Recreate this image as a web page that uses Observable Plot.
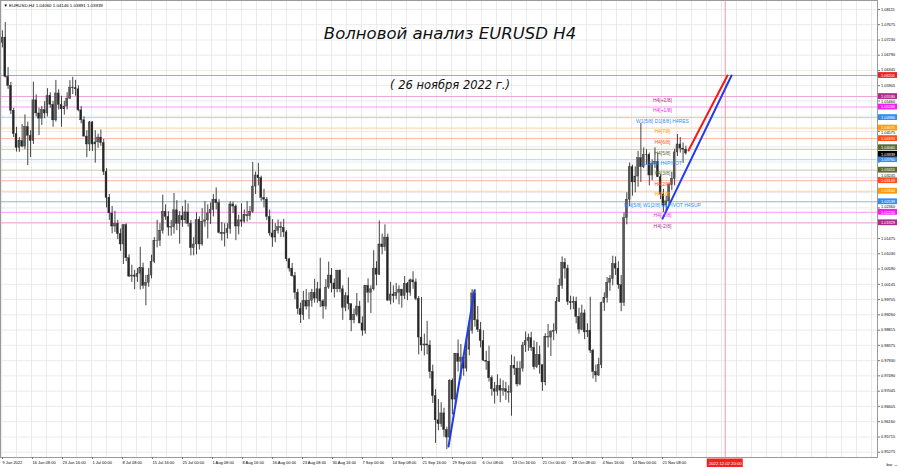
<!DOCTYPE html>
<html><head><meta charset="utf-8">
<script src="https://cdn.jsdelivr.net/npm/d3@7"></script>
<script src="https://cdn.jsdelivr.net/npm/@observablehq/plot@0.6"></script>
<style>body{margin:0;background:#fff}svg{display:block}</style>
</head><body><div id="chart"></div>
<script>
// ---------- DATA ----------
const firstOpen = 1.0715;
// half-day candles (3 H4 bars each), 2 per trading day, 9 Jun – 25 Nov 2022
const hi = [
1.0750,1.0774, 1.0643,1.0600, 1.0525,1.0470, 1.0440,1.0478, 1.0506,1.0485,
1.0460,1.0601, 1.0564,1.0525, 1.0530,1.0544, 1.0582,1.0570, 1.0545,1.0606,
1.0579,1.0560, 1.0545,1.0570, 1.0605,1.0615, 1.0606,1.0590, 1.0530,1.0500,
1.0460,1.0487, 1.0486,1.0460, 1.0450,1.0462, 1.0435,1.0350, 1.0275,1.0240,
1.0226,1.0200, 1.0175,1.0186, 1.0190,1.0100, 1.0070,1.0055, 1.0060,1.0122,
1.0076,1.0040, 1.0060,1.0099, 1.0150,1.0200, 1.0190,1.0273, 1.0245,1.0225,
1.0200,1.0278, 1.0257,1.0225, 1.0240,1.0258, 1.0248,1.0200, 1.0150,1.0222,
1.0210,1.0234, 1.0254,1.0245, 1.0250,1.0275, 1.0294,1.0260, 1.0194,1.0190,
1.0190,1.0254, 1.0253,1.0245, 1.0215,1.0248, 1.0230,1.0254, 1.0240,1.0368,
1.0340,1.0365, 1.0328,1.0290, 1.0266,1.0230, 1.0202,1.0190, 1.0201,1.0195,
1.0203,1.0170, 1.0090,1.0075, 1.0049,1.0000, 0.9960,0.9994, 0.9999,0.9990,
1.0000,1.0029, 1.0020,1.0090, 0.9970,1.0028, 1.0079,1.0060, 1.0030,1.0055,
1.0056,1.0010, 0.9990,1.0033, 0.9957,0.9943, 0.9988,0.9965, 0.9920,1.0011,
1.0030,1.0010, 1.0112,1.0080, 1.0198,1.0160, 1.0187,1.0160, 1.0020,1.0010,
1.0017,1.0010, 1.0000,1.0037, 1.0020,1.0030, 1.0051,1.0030, 0.9979,0.9976,
0.9870,0.9907, 0.9851,0.9780, 0.9709,0.9680, 0.9671,0.9655, 0.9600,0.9738,
0.9740,0.9814, 0.9853,0.9840, 0.9810,0.9852, 0.9900,0.9999, 0.9999,0.9950,
0.9904,0.9880, 0.9820,0.9835, 0.9749,0.9730, 0.9752,0.9740, 0.9735,0.9730,
0.9720,0.9809, 0.9804,0.9790, 0.9790,0.9846, 0.9876,0.9870, 0.9875,0.9850,
0.9846,0.9835, 0.9780,0.9871, 0.9898,0.9880, 0.9900,0.9976, 1.0030,1.0094,
1.0089,1.0070, 0.9980,0.9978, 0.9977,0.9945, 0.9954,0.9940, 0.9900,0.9977,
0.9826,0.9780, 0.9800,0.9963, 0.9990,1.0034, 1.0040,1.0096, 1.0094,1.0080,
1.0040,1.0222, 1.0280,1.0366, 1.0360,1.0355, 1.0400,1.0481, 1.0410,1.0405,
1.0395,1.0375, 1.0410,1.0395, 1.0333,1.0290, 1.0270,1.0306, 1.0340,1.0406,
1.0449,1.0440, 1.0424,1.0415];
const lo = [
1.0700,1.0613, 1.0580,1.0507, 1.0440,1.0398, 1.0397,1.0410, 1.0405,1.0359,
1.0382,1.0420, 1.0500,1.0446, 1.0475,1.0495, 1.0500,1.0525, 1.0470,1.0485,
1.0520,1.0470, 1.0505,1.0520, 1.0550,1.0565, 1.0560,1.0515, 1.0480,1.0441,
1.0382,1.0400, 1.0400,1.0366, 1.0409,1.0415, 1.0330,1.0236, 1.0200,1.0161,
1.0165,1.0144, 1.0110,1.0072, 1.0080,1.0034, 1.0020,0.9999, 1.0020,0.9998,
1.0000,0.9952, 1.0006,1.0030, 1.0075,1.0120, 1.0124,1.0160, 1.0200,1.0154,
1.0154,1.0160, 1.0170,1.0131, 1.0180,1.0190, 1.0180,1.0097, 1.0097,1.0100,
1.0114,1.0125, 1.0180,1.0146, 1.0188,1.0210, 1.0230,1.0160, 1.0140,1.0123,
1.0146,1.0160, 1.0220,1.0141, 1.0158,1.0180, 1.0192,1.0195, 1.0200,1.0220,
1.0275,1.0300, 1.0255,1.0236, 1.0200,1.0154, 1.0122,1.0135, 1.0160,1.0150,
1.0150,1.0080, 1.0050,1.0035, 0.9970,0.9926, 0.9901,0.9910, 0.9940,0.9912,
0.9948,0.9960, 0.9960,0.9947, 0.9913,0.9940, 1.0000,0.9990, 0.9975,0.9990,
0.9990,0.9910, 0.9935,0.9940, 0.9877,0.9900, 0.9920,0.9900, 0.9864,0.9870,
0.9960,0.9930, 0.9995,1.0010, 1.0040,1.0100, 1.0110,0.9966, 0.9955,0.9960,
0.9970,0.9955, 0.9945,0.9970, 0.9967,0.9980, 1.0000,0.9967, 0.9810,0.9820,
0.9807,0.9810, 0.9740,0.9669, 0.9553,0.9590, 0.9600,0.9571, 0.9535,0.9560,
0.9636,0.9660, 0.9760,0.9737, 0.9748,0.9760, 0.9807,0.9870, 0.9890,0.9875,
0.9830,0.9791, 0.9765,0.9731, 0.9690,0.9667, 0.9690,0.9671, 0.9690,0.9678,
0.9670,0.9632, 0.9750,0.9717, 0.9720,0.9760, 0.9817,0.9820, 0.9820,0.9766,
0.9770,0.9754, 0.9704,0.9720, 0.9830,0.9805, 0.9851,0.9870, 0.9962,1.0000,
1.0030,0.9953, 0.9940,0.9941, 0.9900,0.9870, 0.9880,0.9854, 0.9860,0.9814,
0.9740,0.9730, 0.9747,0.9770, 0.9936,0.9960, 0.9994,1.0010, 1.0040,1.0000,
0.9935,0.9950, 1.0187,1.0240, 1.0270,1.0280, 1.0296,1.0310, 1.0350,1.0360,
1.0300,1.0315, 1.0350,1.0325, 1.0260,1.0223, 1.0226,1.0240, 1.0286,1.0300,
1.0385,1.0395, 1.0365,1.0389];
const cl = [
1.0730,1.0616, 1.0590,1.0518, 1.0450,1.0410, 1.0430,1.0414, 1.0470,1.0445,
1.0430,1.0548, 1.0510,1.0495, 1.0520,1.0510, 1.0560,1.0535, 1.0490,1.0568,
1.0535,1.0522, 1.0530,1.0553, 1.0585,1.0583, 1.0580,1.0519, 1.0490,1.0443,
1.0420,1.0484, 1.0420,1.0426, 1.0440,1.0424, 1.0340,1.0265, 1.0220,1.0182,
1.0190,1.0160, 1.0130,1.0186, 1.0090,1.0037, 1.0040,1.0036, 1.0045,1.0061,
1.0010,1.0019, 1.0040,1.0080, 1.0140,1.0141, 1.0170,1.0225, 1.0210,1.0179,
1.0180,1.0229, 1.0190,1.0212, 1.0200,1.0223, 1.0190,1.0119, 1.0130,1.0201,
1.0130,1.0196, 1.0200,1.0220, 1.0230,1.0260, 1.0250,1.0164, 1.0160,1.0163,
1.0175,1.0246, 1.0240,1.0182, 1.0200,1.0196, 1.0215,1.0212, 1.0225,1.0298,
1.0330,1.0322, 1.0265,1.0260, 1.0210,1.0162, 1.0150,1.0170, 1.0180,1.0178,
1.0165,1.0087, 1.0060,1.0038, 0.9990,0.9943, 0.9925,0.9966, 0.9950,0.9967,
0.9990,0.9973, 1.0000,0.9965, 0.9950,1.0005, 1.0040,1.0017, 1.0000,1.0054,
1.0000,0.9946, 0.9980,0.9957, 0.9910,0.9926, 0.9950,0.9901, 0.9880,1.0010,
0.9990,1.0000, 1.0060,1.0042, 1.0130,1.0122, 1.0150,0.9967, 0.9985,0.9980,
0.9990,0.9999, 0.9980,1.0016, 0.9990,1.0026, 1.0020,0.9972, 0.9860,0.9837,
0.9840,0.9837, 0.9760,0.9690, 0.9620,0.9609, 0.9640,0.9592, 0.9570,0.9735,
0.9680,0.9813, 0.9790,0.9802, 0.9770,0.9825, 0.9880,0.9988, 0.9910,0.9882,
0.9850,0.9793, 0.9790,0.9742, 0.9710,0.9703, 0.9720,0.9706, 0.9710,0.9702,
0.9700,0.9778, 0.9770,0.9724, 0.9770,0.9837, 0.9850,0.9858, 0.9830,0.9774,
0.9810,0.9780, 0.9730,0.9861, 0.9860,0.9876, 0.9880,0.9964, 1.0010,1.0077,
1.0060,0.9963, 0.9960,0.9964, 0.9920,0.9883, 0.9930,0.9875, 0.9880,0.9822,
0.9760,0.9750, 0.9780,0.9960, 0.9975,1.0019, 1.0030,1.0073, 1.0060,1.0012,
0.9960,1.0206, 1.0260,1.0354, 1.0310,1.0327, 1.0380,1.0354, 1.0390,1.0389,
1.0330,1.0363, 1.0370,1.0325, 1.0275,1.0243, 1.0255,1.0302, 1.0320,1.0397,
1.0420,1.0408, 1.0405,1.0394];

const headerText = "▼ EURUSD,H4";
const headerValues = [1.04060, 1.04146, 1.03891, 1.03939];

const xTickBars = [0,32,64,96,128,160,192,224,256,288,320,352,384,416,448,480,512,544,576,608,640,672,704];
const xTickLabels = ["9 Jun 2022","16 Jun 08:00","23 Jun 16:00","1 Jul 00:00","8 Jul 08:00","15 Jul 16:00","25 Jul 00:00","1 Aug 08:00","8 Aug 16:00","16 Aug 00:00","23 Aug 08:00","30 Aug 16:00","7 Sep 00:00","14 Sep 08:00","21 Sep 16:00","29 Sep 00:00","6 Oct 08:00","13 Oct 16:00","21 Oct 00:00","28 Oct 08:00","4 Nov 16:00","14 Nov 00:00","21 Nov 08:00"];
const yTicks = [1.08115,1.07675,1.07230,1.06790,1.06345,1.05905,1.05460,1.05020,1.04575,1.04135,1.03690,1.03245,1.02805,1.02360,1.01920,1.01475,1.01030,1.00590,1.00145,0.99705,0.99260,0.98815,0.98375,0.97930,0.97490,0.97045,0.96605,0.96160,0.95715,0.95275];

const murrayKeys   = ["+2/8","+1/8","8/8","7/8","6/8","5/8","4/8","3/8","2/8","1/8","0/8","-1/8","-2/8"];
const murrayPrices = [1.05590,1.05286,1.04980,1.04675,1.04370,1.04060,1.03760,1.03455,1.03149,1.02844,1.02539,1.02234,1.01929];
const murrayTexts  = ["H4[+2/8]","H4[+1/8]","W1[5/8] D1[8/8] H4RES","H4[7/8]","H4[6/8]","H4[5/8]","D1[6/8] H4PIVOT","H4[3/8]","H4[2/8]","H4[1/8]","MN[5/8] W1[2/8] D1PIVOT H4SUP","H4[-1/8]","H4[-2/8]"];
const targetLevel = 1.06201;
const bidPrice = 1.03939;
const futureBar = 772;
const futureLabel = "2022.12.02 20:00";
const murrayTextBar = 705;

const blueLine1Bars = [476.8, 504.5], blueLine1Prices = [0.95441, 0.99965];
const blueLine2Bars = [705.1, 778.7], blueLine2Prices = [1.02050, 1.06201];
const redLineBars   = [732.8, 774.4], redLinePrices   = [1.04026, 1.06201];

const titleText = "Волновой анализ EURUSD H4";
const subtitleText = "( 26 ноября 2022 г.)";

// ---------- STYLES ----------
const styleOf = {
  "+2/8": {line:"#e99ad6", tag:"#b12a8e", dash:"3,3"},
  "-2/8": {line:"#e99ad6", tag:"#b12a8e", dash:"3,3"},
  "+1/8": {line:"#f78ef7", tag:"#f21ef2", dash:"3,3"},
  "-1/8": {line:"#f78ef7", tag:"#f21ef2", dash:"3,3"},
  "8/8":  {line:"#a9d2f2", tag:"#2f8ff5", dash:null},
  "4/8":  {line:"#a9d2f2", tag:"#2f8ff5", dash:null},
  "0/8":  {line:"#93a9c0", tag:"#2f8ff5", dash:null},
  "7/8":  {line:"#ffcc9c", tag:"#ff9a0a", dash:"3,3"},
  "1/8":  {line:"#ffcc9c", tag:"#ff9a0a", dash:"3,3"},
  "6/8":  {line:"#ffa894", tag:"#ff4d1c", dash:"3,3"},
  "2/8":  {line:"#ffa894", tag:"#ff4d1c", dash:"3,3"},
  "5/8":  {line:"#c4c4a6", tag:"#5b6b2c", dash:"3,3"},
  "3/8":  {line:"#c4c4a6", tag:"#5b6b2c", dash:"3,3"}
};

// ---------- BUILD ----------
const PX = 3448;               // pixels per price unit
const YTOP = 1.08376;
const PH = 457;                // plot height in px
const BW = 0.9375;             // px per bar
const yDom = [YTOP - PH / PX, YTOP];
const xDom = [-1 / BW, 876 / BW];
const dpx = p => p / BW;       // px -> bars
const dpy = p => p / PX;       // px -> price

const candles = cl.map((c, i) => ({bar: i * 3 + 1, o: i ? cl[i - 1] : firstOpen, h: hi[i], l: lo[i], c}));
const levels = murrayKeys.map((k, i) => ({key: k, price: murrayPrices[i], text: murrayTexts[i], ...styleOf[k]}));
const gridBars = d3.range(0, 940, 16);
const labelMap = new Map(xTickBars.map((b, i) => [b, xTickLabels[i]]));
const line = (bars, prices) => bars.map((b, i) => ({bar: b, price: prices[i]}));

// price tags on the right scale; the two tags that nearly coincide are nudged apart (shift in px, + = up)
const tags = [
  ...levels.map(d => ({price: d.price, fill: d.tag, shift: d.key === "5/8" ? 1.6 : 0})),
  {price: targetLevel, fill: "#f2231f", shift: 0},
  {price: bidPrice, fill: "#000000", shift: -0.8}
];
const tagPx = tags.map(t => t.price * PX + t.shift);

// scale labels: as in the terminal, a label covered by a price tag is hidden, a label
// only touched by one is nudged clear of it
const GAP = 5.4;
const tickLabels = yTicks.map(v => {
  let p = v * PX, shift = 0, hide = false;
  for (const t of tagPx) {
    const d = p + shift - t;
    if (Math.abs(d) < GAP) {
      const need = (d >= 0 ? GAP - d : -GAP - d);
      if (Math.abs(need) > 2.6) { hide = true; break; }
      shift += need;
    }
  }
  return {v, y: v + shift / PX, hide};
}).filter(d => !d.hide);

const FONT = "Tahoma, 'Liberation Sans', Arial, sans-serif";

const chart = Plot.plot({
  width: 900, height: 468,
  marginLeft: 0, marginRight: 23, marginTop: 0, marginBottom: 11,
  style: {background: "#ffffff", fontFamily: FONT, color: "#000"},
  x: {domain: xDom, axis: null},
  y: {domain: yDom, axis: null},
  marks: [
    Plot.ruleY(yTicks, {stroke: "#e6e6e6", strokeWidth: 0.8}),
    Plot.ruleX(gridBars, {stroke: "#e6e6e6", strokeWidth: 0.8}),
    Plot.ruleY(levels, {y: "price", stroke: "line", strokeDasharray: "dash", strokeWidth: 0.9}),
    Plot.ruleY([targetLevel], {stroke: "#f58a86", strokeWidth: 1}),
    Plot.ruleX([futureBar], {stroke: "#f79a9a", strokeWidth: 1}),
    Plot.ruleX(candles, {x: "bar", y1: "l", y2: "h", stroke: "#303030", strokeWidth: 0.9}),
    Plot.rect(candles, {x1: d => d.bar - 1.0, x2: d => d.bar + 1.0, y1: "o", y2: "c",
      fill: d => d.c >= d.o ? "#5a5a5a" : "#262626", stroke: "#303030", strokeWidth: 0.4}),
    Plot.line(line(blueLine1Bars, blueLine1Prices), {x: "bar", y: "price", stroke: "#1f3cf0", strokeWidth: 2}),
    Plot.line(line(blueLine2Bars, blueLine2Prices), {x: "bar", y: "price", stroke: "#1f3cf0", strokeWidth: 2}),
    Plot.line(line(redLineBars, redLinePrices), {x: "bar", y: "price", stroke: "#f21a1a", strokeWidth: 2}),
    Plot.text(levels, {x: () => murrayTextBar, y: "price", text: "text", fill: "tag", fontSize: 5, dy: 3.6, textAnchor: "middle"}),
    Plot.text([titleText], {frameAnchor: "top", dx: 11, dy: 38, lineAnchor: "bottom", fontSize: 16.5, fontStyle: "italic", fontFamily: "'DejaVu Sans', sans-serif", fill: "#111"}),
    Plot.text([subtitleText], {frameAnchor: "top", dx: 11, dy: 88, lineAnchor: "bottom", fontSize: 11.5, fontStyle: "italic", fontFamily: "'DejaVu Sans', sans-serif", fill: "#111"}),
    Plot.text([headerText + " " + headerValues.map(v => v.toFixed(5)).join(" ")], {frameAnchor: "top-left", dx: 3, dy: 3, lineAnchor: "top", textAnchor: "start", fontSize: 4.4}),
    Plot.frame({stroke: "#9a9a9a", strokeWidth: 1}),
    Plot.axisY(yTicks, {anchor: "right", tickSize: 2, fontSize: 4, tickFormat: () => "", stroke: "#777"}),
    Plot.text(tickLabels, {x: () => xDom[1] + dpx(3.5), y: "y", text: d => d.v.toFixed(5), textAnchor: "start", fontSize: 3.9, fill: "#000"}),
    Plot.axisX(xTickBars, {anchor: "bottom", tickSize: 2, tickPadding: 2, fontSize: 4, textAnchor: "start", dx: 1, tickFormat: d => labelMap.get(d), stroke: "#777"}),
    Plot.rect(tags, {x1: () => xDom[1] + dpx(1), x2: () => xDom[1] + dpx(20),
      y1: d => d.price + dpy(d.shift) - dpy(2.9), y2: d => d.price + dpy(d.shift) + dpy(2.9), fill: "fill"}),
    Plot.text(tags, {x: () => xDom[1] + dpx(10.5), y: d => d.price + dpy(d.shift), text: d => d.price.toFixed(5), fill: "#fff", fontSize: 3.9}),
    Plot.rect([futureBar], {x1: d => d - dpx(18), x2: d => d + dpx(18), y1: () => yDom[0] - dpy(1.5), y2: () => yDom[0] - dpy(10), fill: "#f2231f"}),
    Plot.text([futureLabel], {x: () => futureBar, y: () => yDom[0] - dpy(5.8), text: d => d, fill: "#fff", fontSize: 4.2})
  ]
});
document.getElementById("chart").append(chart);
</script></body></html>
